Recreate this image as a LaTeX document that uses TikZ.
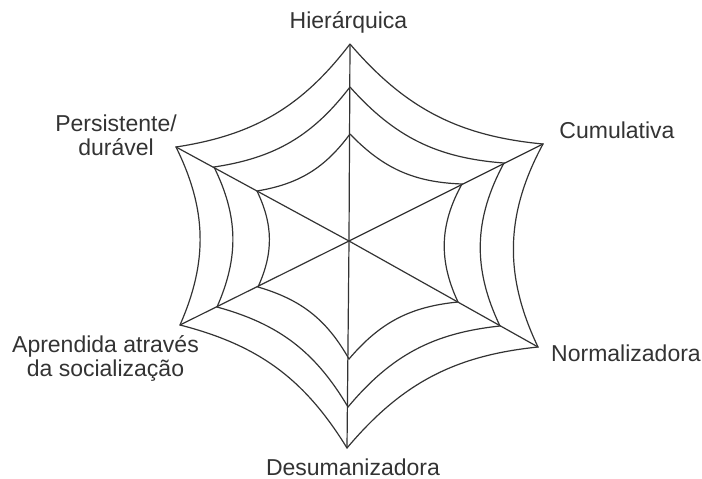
\documentclass[tikz,border=0pt]{standalone}
\usepackage{fontspec}
\setmainfont{Liberation Sans}
\definecolor{webc}{HTML}{333333}
\begin{document}
\begin{tikzpicture}[x=1pt,y=-1pt,
  web/.style={draw=webc, line width=1.2pt},
  lbl/.style={text=webc, font=\fontsize{23}{24}\selectfont, inner sep=0pt, align=center, anchor=base}]
\useasboundingbox (0,0) rectangle (702,479);
\coordinate (C) at (349,241);
% outer ring
\coordinate (T1) at (350,44);
\coordinate (UR1) at (543,144);
\coordinate (LR1) at (538,347);
\coordinate (B1) at (347,448);
\coordinate (LL1) at (180,325);
\coordinate (UL1) at (176,147);
% middle ring
\coordinate (T2) at (350,87);
\coordinate (UR2) at (504,163);
\coordinate (LR2) at (500,326);
\coordinate (B2) at (348,407);
\coordinate (LL2) at (217,307);
\coordinate (UL2) at (214,167);
% inner ring
\coordinate (T3) at (350,134);
\coordinate (UR3) at (462,184);
\coordinate (LR3) at (458,302);
\coordinate (B3) at (349,359);
\coordinate (LL3) at (258,287);
\coordinate (UL3) at (257,191);
% spokes
\foreach \v in {T1,UR1,LR1,B1,LL1,UL1} \draw[web] (C) -- (\v);
% rings
\foreach \r in {1,2,3}
  \draw[web] (T\r) to[bend right=22] (UR\r) to[bend right=27] (LR\r)
     to[bend right=22] (B\r) to[bend right=22] (LL\r) to[bend right=25] (UL\r)
     to[bend right=22] (T\r);
% labels
\node[lbl] (hier) at (348.5,28) {Hierárquica};
\node[lbl] (cumul) at (617,138) {Cumulativa};
\node[lbl] (norm) at (626,361.7) {Normalizadora};
\node[lbl] (desum) at (353,475) {Desumanizadora};
\node[lbl] (pers) at (116,155) {Persistente/\\durável};
\node[lbl] (apren) at (105.5,376.7) {Aprendida através\\da socialização};
\end{tikzpicture}
\end{document}
